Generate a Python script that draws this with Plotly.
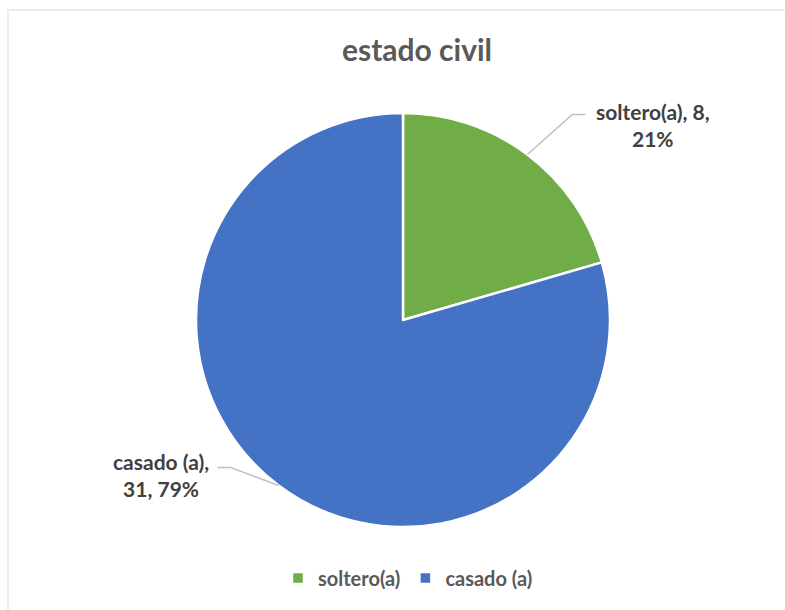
import math
import plotly.graph_objects as go

labels = ["soltero(a)", "casado (a)"]
values = [8, 31]
colors = ["#70AD47", "#4472C4"]

W, H = 785, 610
cx, cy, R = 403, 320, 207  # pixel centre and radius of pie

fig = go.Figure(go.Pie(
    labels=[f"<b>{l}</b>" for l in labels], values=values, sort=False,
    direction="clockwise", rotation=0,
    marker=dict(colors=colors, line=dict(color="white", width=2.5)),
    textinfo="none", hoverinfo="label+value+percent",
    domain=dict(x=[(cx - R) / W, (cx + R) / W], y=[(H - cy - R) / H, (H - cy + R) / H]),
))

total = sum(values)
shapes = []
annotations = []
cum = 0
FONT = "Lato"
for i, v in enumerate(values):
    mid = (cum + v / 2) / total * 360
    cum += v
    a = math.radians(mid)
    sx, sy = cx + R * math.sin(a), cy - R * math.cos(a)
    right = math.sin(a) >= 0
    ex = sx + (45 if right else -48)
    ey = sy + (-40 if right else -18)
    hx = ex + (13 if right else -13)
    shapes.append(dict(type="path", xref="paper", yref="paper",
                       path=f"M {sx/W},{1-sy/H} L {ex/W},{1-ey/H} L {hx/W},{1-ey/H}",
                       line=dict(color="#BFBFBF", width=1.5)))
    pct = round(v / total * 100)
    if right:
        txt, tx, ty = f"{labels[i]}, {v},<br>{pct}%", hx + 68, ey + 10
    else:
        txt, tx, ty = f"{labels[i]},<br>{v}, {pct}%", hx - 57, ey + 8
    annotations.append(dict(x=tx / W, y=1 - ty / H, xref="paper", yref="paper",
                            text=txt, showarrow=False,
                            align="center", xanchor="center", yanchor="middle",
                            font=dict(family=FONT, size=21, color="#404040", weight="bold")))

# faint chart border
shapes.append(dict(type="rect", xref="paper", yref="paper", x0=8 / W, x1=1.05, y0=-0.05, y1=1 - 10 / H,
                   line=dict(color="#E6E6E6", width=1.5), fillcolor="rgba(0,0,0,0)"))

fig.update_layout(
    width=W, height=H, margin=dict(l=0, r=0, t=0, b=0),
    paper_bgcolor="white", plot_bgcolor="white",
    title=dict(text="estado civil", x=417 / W, xanchor="center", y=1 - 50 / H, yanchor="middle",
               font=dict(family=FONT, size=30, color="#595959", weight="bold")),
    showlegend=True,
    legend=dict(orientation="h", x=408 / W, xanchor="center", y=1 - 578 / H, yanchor="middle",
                font=dict(family=FONT, size=20, color="#595959"), itemwidth=30),
    shapes=shapes, annotations=annotations,
)

fig.write_html("out.html")
